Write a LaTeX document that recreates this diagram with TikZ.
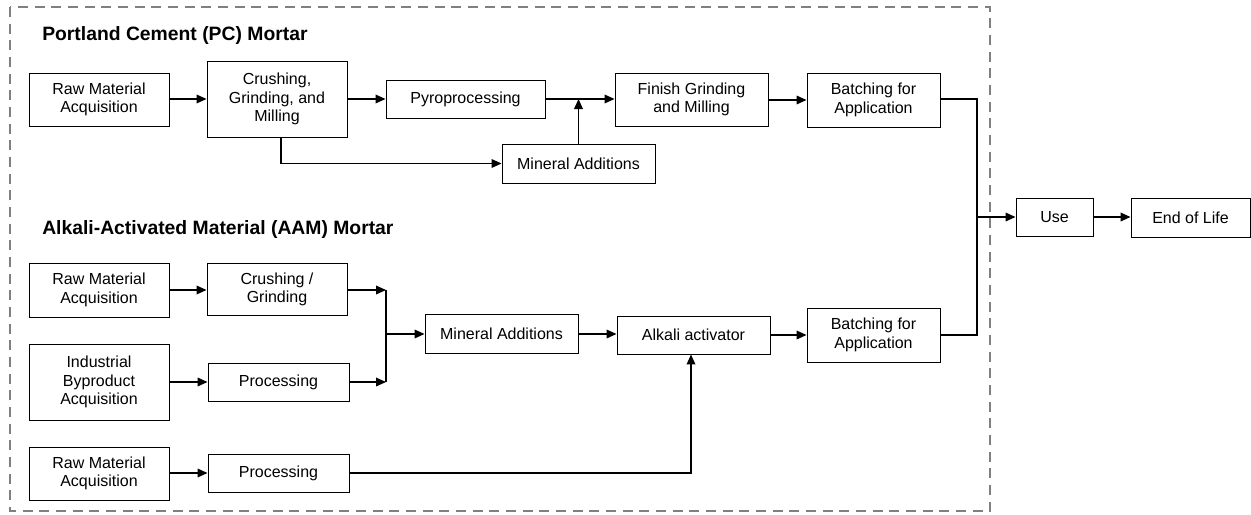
\documentclass[tikz,border=0pt]{standalone}
\usepackage{fontspec}
\setmainfont{Liberation Sans}
\usepackage{tikz}
\usetikzlibrary{arrows.meta, positioning}

\tikzset{
    blk/.style 2 args={draw, line width=0.7pt, inner sep=0pt, align=center,
        minimum width=#1*0.75pt, minimum height=#2*0.75pt,
        font=\fontsize{12}{14}\selectfont},
    flow/.style={line width=1pt, -{Triangle[length=7.5pt,width=6.5pt]}},
    link/.style={line width=1pt},
    grp/.style={anchor=base west, inner sep=0pt, font=\fontsize{14.5}{17}\selectfont\bfseries},
}

\begin{document}
\begin{tikzpicture}[x=0.75pt, y=-0.75pt]
        \useasboundingbox (0,0) rectangle (1251,514);
        % dashed frame round both mortars
        \draw[line width=1.5pt, black!50, dash pattern=on 7.5pt off 5pt] (10,7) rectangle (990,511);

        % Portland cement
        \node[grp] (pcTitle) at (42,40) {Portland Cement (PC) Mortar};
        \node[blk={140}{53}] (pcRaw) at (99,99.5) {Raw Material\\Acquisition};
        \node[blk={140}{76}] (pcCrush) at (277,99) {Crushing,\\Grinding, and\\Milling};
        \node[blk={159}{38}] (pcPyro) at (465.5,99) {Pyroprocessing};
        \node[blk={153}{53}] (pcFinish) at (691.5,99.5) {Finish Grinding\\and Milling};
        \node[blk={153}{39}] (pcMin) at (578.5,163.5) {Mineral Additions};
        \node[blk={133}{54}] (pcBatch) at (873.5,100) {Batching for\\Application};
        \coordinate (pcJoin) at (pcMin.north |- pcPyro.east);

        \draw[flow] (pcRaw.east |- pcCrush) -- (pcCrush);
        \draw[flow] (pcCrush) -- (pcPyro);
        \draw[flow] (pcPyro) -- (pcFinish.west |- pcPyro);
        \draw[flow] (pcMin) -- (pcJoin);
        \draw[flow] (pcCrush.south -| 281,0) |- (pcMin);
        \draw[flow] (pcFinish.east |- pcBatch.west) -- (pcBatch.west);

        % alkali-activated material
        \node[grp] (aamTitle) at (42,234) {Alkali-Activated Material (AAM) Mortar};
        \node[blk={140}{54}] (aamRawA) at (99,290) {Raw Material\\Acquisition};
        \node[blk={140}{52}] (aamCrush) at (277,289.5) {Crushing /\\Grinding};
        \node[blk={140}{76}] (aamInd) at (99,382) {Industrial\\Byproduct\\Acquisition};
        \node[blk={141}{38}] (aamProcA) at (278.5,382) {Processing};
        \node[blk={140}{53}] (aamRawB) at (99,473.5) {Raw Material\\Acquisition};
        \node[blk={141}{38}] (aamProcB) at (278.5,473) {Processing};
        \node[blk={153}{39}] (aamMin) at (501.5,334) {Mineral Additions};
        \node[blk={153}{38}] (aamAlk) at (693.5,335) {Alkali activator};
        \node[blk={133}{54}] (aamBatch) at (873.5,335) {Batching for\\Application};
        \coordinate (aamTop) at (386,290);
        \coordinate (aamBot) at (386,382);

        \draw[flow] (aamRawA.east |- 0,290) -- (aamCrush.west |- 0,290);
        \draw[flow] (aamInd) -- (aamProcA);
        \draw[flow] (aamRawB.east |- aamProcB) -- (aamProcB);
        \draw[flow] (aamCrush.east |- aamTop) -- (aamTop);
        \draw[flow] (aamProcA) -- (aamBot);
        \draw[link] (aamTop) -- (aamBot);
        \draw[flow] (aamTop |- aamMin) -- (aamMin);
        \draw[flow] (aamMin) -- (aamAlk.west |- aamMin);
        \draw[flow] (aamProcB) -| (aamAlk.south -| 691,0);
        \draw[flow] (aamAlk) -- (aamBatch.west |- aamAlk);

        % shared stages
        \node[blk={77}{38}] (use) at (1054.5,217) {Use};
        \node[blk={119}{39}] (eol) at (1190.5,217.5) {End of Life};
        \coordinate (merge) at (977,217);
        \draw[link] (pcBatch.east |- 0,99) -| (merge) |- (aamBatch.east);
        \draw[flow] (merge) -- (use);
        \draw[flow] (use) -- (eol.west |- use);
    \end{tikzpicture}
\end{document}
